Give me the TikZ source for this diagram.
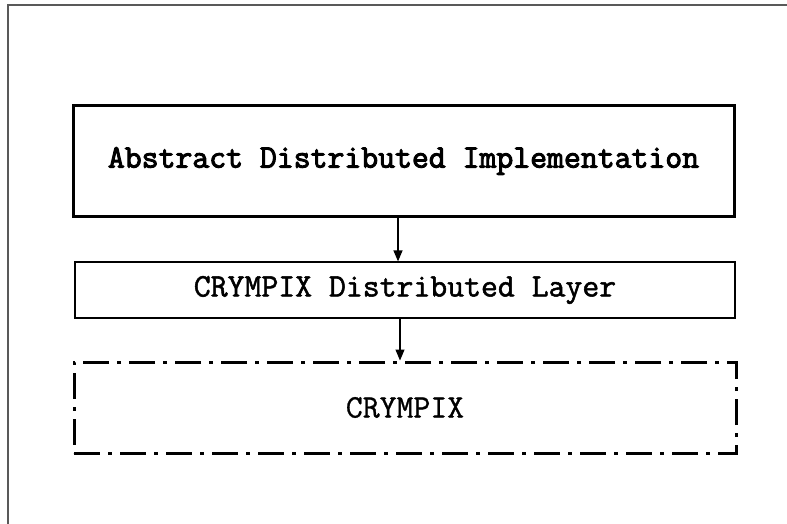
\documentclass[tikz,border=0pt]{standalone}
\usepackage{fontspec}
\newfontfamily\monoA{Latin Modern Mono}[FakeBold=3]
\newfontfamily\monoB{Latin Modern Mono}[FakeBold=1.6]
\newfontfamily\monoC{Latin Modern Mono}[FakeBold=0.9]
\usetikzlibrary{arrows.meta}
\begin{document}
\begin{tikzpicture}[x=1pt,y=-1pt,
  lbl/.style={font=\fontsize{32.8}{34}\selectfont},
  conn/.style={line width=1.2pt,-{Triangle[length=11pt,width=9pt]}}]
\useasboundingbox (0,0) rectangle (787,524);
\fill[white] (0,0) rectangle (787,524);
\draw[gray!70!black,line width=1.5pt] (8,524) -- (8,5) -- (787,5);
\node[draw,line width=3pt,minimum width=661pt,minimum height=110pt,inner sep=0pt,lbl] (impl) at (403.5,161) {\monoA Abstract Distributed Implementation};
\node[draw,line width=1.2pt,minimum width=660pt,minimum height=56pt,inner sep=0pt,lbl] (layer) at (405,290) {\monoB CRYMPIX Distributed Layer};
\node[draw,line width=3pt,dash pattern=on 26pt off 8pt on 4pt off 8pt,minimum width=662pt,minimum height=91pt,inner sep=0pt,lbl] (cry) at (405,407.5) {\monoC CRYMPIX};
\draw[conn] (impl.south -| 398,0) -- (layer.north -| 398,0);
\draw[conn] (layer.south -| 400,0) -- (cry.north -| 400,0);
\end{tikzpicture}
\end{document}
